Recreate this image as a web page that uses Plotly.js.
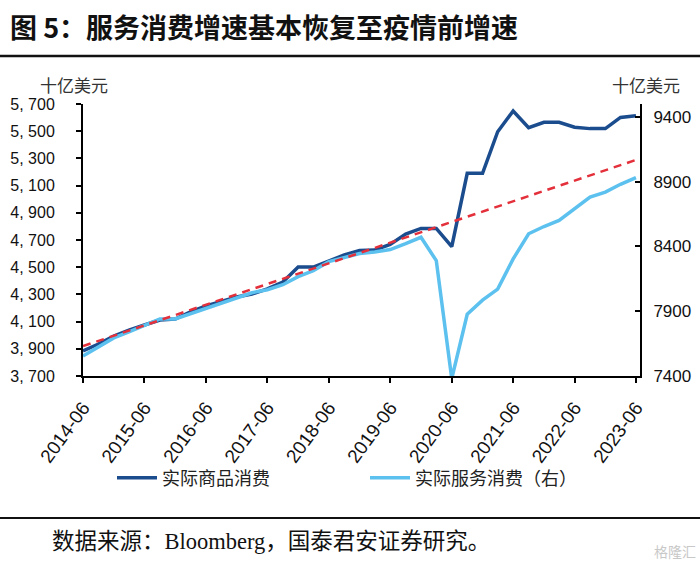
<!DOCTYPE html>
<html><head><meta charset="utf-8">
<script src="https://cdn.plot.ly/plotly-3.0.1.min.js"></script>
<style>html,body{margin:0;padding:0;background:#fff}#chart{width:700px;height:568px}</style>
</head><body><div id="chart"></div>
<script>
const dates = ['2014-06','2014-09','2014-12','2015-03','2015-06','2015-09','2015-12','2016-03','2016-06','2016-09','2016-12','2017-03','2017-06','2017-09','2017-12','2018-03','2018-06','2018-09','2018-12','2019-03','2019-06','2019-09','2019-12','2020-03','2020-06','2020-09','2020-12','2021-03','2021-06','2021-09','2021-12','2022-03','2022-06','2022-09','2022-12','2023-03','2023-06'];
const goods = [3884,3935,3994,4038,4075,4112,4119,4171,4215,4251,4281,4303,4340,4391,4501,4501,4546,4590,4623,4626,4667,4744,4785,4785,4651,5190,5190,5496,5649,5526,5565,5565,5529,5519,5519,5601,5614];
const services = [7554,7624,7694,7740,7787,7841,7841,7880,7926,7965,8004,8043,8066,8105,8167,8213,8283,8314,8345,8357,8376,8422,8471,8291,7380,7877,7986,8071,8304,8498,8554,8601,8691,8781,8820,8880,8932];
const trendDates = ['2014-06','2023-06'];
const trendValues = [7631, 9068];
const leftTickVals = [3700,3900,4100,4300,4500,4700,4900,5100,5300,5500,5700];
const leftTickText = ['3, 700','3, 900','4, 100','4, 300','4, 500','4, 700','4, 900','5, 100','5, 300','5, 500','5, 700'];
const rightTickVals = [7400,7900,8400,8900,9400];
const xTickVals = ['2014-06','2015-06','2016-06','2017-06','2018-06','2019-06','2020-06','2021-06','2022-06','2023-06'];
const xTickText = ['2014-06','2015-06','2016-06','2017-06','2018-06','2019-06','2020-06','2021-06','2022-06','2023-06'];

const cjk = '"Noto Sans CJK SC", sans-serif';
const serif = '"Liberation Serif", "Noto Sans CJK SC", serif';
const sans = '"Liberation Sans", Arial, sans-serif';

const traces = [
  {x: dates, y: goods, type: 'scatter', mode: 'lines', name: '实际商品消费',
   line: {color: '#1a4c8e', width: 3.5}, yaxis: 'y'},
  {x: dates, y: services, type: 'scatter', mode: 'lines', name: '实际服务消费（右）',
   line: {color: '#5cc1ee', width: 3.5}, yaxis: 'y2'},
  {x: trendDates, y: trendValues, type: 'scatter', mode: 'lines', showlegend: false,
   line: {color: '#e3303b', width: 2.5, dash: '8px,6px'}, yaxis: 'y2'}
];

const L = 83, R = 640, T = 104, B = 376;
const pw = R - L, ph = B - T;
const px = v => (v - L) / pw;
const py = v => (B - v) / ph;

const layout = {
  width: 700, height: 568,
  margin: {l: L, r: 700 - R, t: T, b: 568 - B, pad: 0},
  paper_bgcolor: '#fff', plot_bgcolor: '#fff',
  showlegend: true,
  title: {text: '<b>图 5：服务消费增速基本恢复至疫情前增速</b>', x: 10/700, xanchor: 'left',
          xref: 'container', yref: 'container', y: 1 - 29/568, yanchor: 'middle',
          font: {family: cjk, size: 27, color: '#111'}},
  xaxis: {type: 'date', range: ['2014-06-01', '2023-06-25'], tickmode: 'array',
          tickvals: xTickVals, ticktext: xTickText, tickangle: -54, ticklabelstandoff: 6,
          tickfont: {family: sans, size: 19, color: '#111'},
          showline: true, linecolor: '#000', linewidth: 2, ticks: 'outside', ticklen: 5,
          tickwidth: 2, tickcolor: '#000', showgrid: false, zeroline: false, fixedrange: true},
  yaxis: {range: [3700, 5700], tickmode: 'array', tickvals: leftTickVals, ticktext: leftTickText,
          tickfont: {family: sans, size: 16, color: '#111'}, ticklabelstandoff: 18,
          showline: true, linecolor: '#000', linewidth: 2, ticks: 'outside', ticklen: 5,
          tickwidth: 2, tickcolor: '#000', showgrid: false, zeroline: false, fixedrange: true},
  yaxis2: {range: [7400, 9500], overlaying: 'y', side: 'right', tickmode: 'array',
          tickvals: rightTickVals, tickfont: {family: sans, size: 17, color: '#111'}, ticklabelstandoff: 8,
          showline: true, linecolor: '#000', linewidth: 2, ticks: 'inside', ticklen: 5,
          tickwidth: 2, tickcolor: '#000', showgrid: false, zeroline: false, fixedrange: true},
  legend: {orientation: 'h', x: px(112), xanchor: 'left', y: py(478), yanchor: 'middle',
           font: {family: cjk, size: 18, color: '#222'}, entrywidth: 198, entrywidthmode: 'pixels',
           itemwidth: 40, bgcolor: 'rgba(0,0,0,0)', traceorder: 'normal'},
  shapes: [
    {type: 'line', xref: 'paper', yref: 'paper', x0: px(0), x1: px(700), y0: py(56), y1: py(56),
     line: {color: '#111', width: 2.5}},
    {type: 'line', xref: 'paper', yref: 'paper', x0: px(0), x1: px(700), y0: py(518), y1: py(518),
     line: {color: '#111', width: 2}}
  ],
  annotations: [
    {text: '十亿美元', xref: 'paper', yref: 'paper', x: px(74), y: py(84), xanchor: 'center', yanchor: 'middle',
     showarrow: false, font: {family: cjk, size: 17, color: '#333'}},
    {text: '十亿美元', xref: 'paper', yref: 'paper', x: px(646), y: py(84), xanchor: 'center', yanchor: 'middle',
     showarrow: false, font: {family: cjk, size: 17, color: '#333'}},
    {text: '数据来源：Bloomberg，国泰君安证券研究。', xref: 'paper', yref: 'paper', x: px(50), y: py(541),
     xanchor: 'left', yanchor: 'middle', showarrow: false, font: {family: serif, size: 22.5, color: '#111'}},
    {text: '格隆汇', xref: 'paper', yref: 'paper', x: px(698), y: py(551),
     xanchor: 'right', yanchor: 'middle', showarrow: false, font: {family: cjk, size: 14, color: '#c8c8c8'}}
  ]
};

Plotly.newPlot('chart', traces, layout, {displayModeBar: false, staticPlot: true});
</script>
</body></html>
